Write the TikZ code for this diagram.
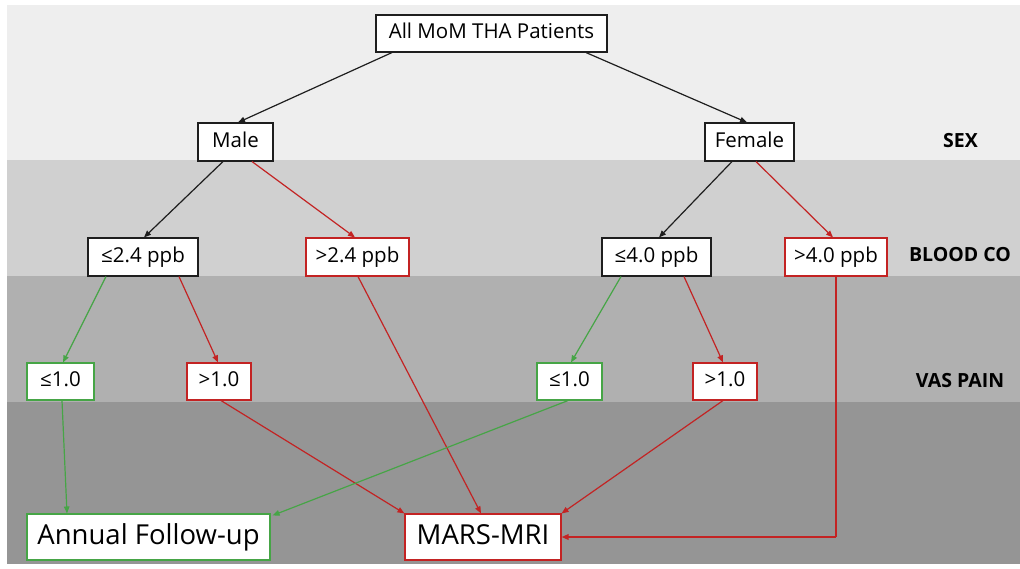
\documentclass[tikz,border=0pt]{standalone}
\usepackage{fontspec}
\setmainfont{Open Sans}
\usetikzlibrary{arrows.meta,positioning}
\definecolor{bandA}{RGB}{238,238,238}
\definecolor{bandB}{RGB}{208,208,208}
\definecolor{bandC}{RGB}{176,176,176}
\definecolor{bandD}{RGB}{149,149,149}
\definecolor{myred}{RGB}{195,35,35}
\definecolor{mygreen}{RGB}{70,165,70}
\definecolor{myblack}{RGB}{30,30,30}
\tikzset{
  box/.style={draw=myblack, line width=1.1pt, fill=white, inner sep=0pt, align=center,
    font=\fontsize{20.5}{24}\selectfont, text height=15pt, text depth=4.5pt},
  redbox/.style={box, draw=myred},
  greenbox/.style={box, draw=mygreen},
  bigbox/.style={font=\fontsize{27.5}{30}\selectfont, text height=20pt, text depth=6pt},
  lvl/.style={font=\fontsize{19.5}{22}\selectfont\bfseries, inner sep=0pt},
  conn/.style={line width=1.2pt, -{Triangle[length=7pt,width=5.5pt]}},
  blk/.style={conn, draw=myblack},
  rd/.style={conn, draw=myred},
  gr/.style={conn, draw=mygreen}
}
\begin{document}
\begin{tikzpicture}[x=1pt,y=-1pt]
\useasboundingbox (0,0) rectangle (1020,568);
\fill[white] (0,0) rectangle (1020,568);
\fill[bandA] (7,5) rectangle (1020,160);
\fill[bandB] (7,160) rectangle (1020,275.5);
\fill[bandC] (7,275.5) rectangle (1020,401.5);
\fill[bandD] (7,401.5) rectangle (1020,564);

\node[box, minimum width=231pt, minimum height=37pt] (all) at (491.5,33.5) {All MoM THA Patients};
\node[box, minimum width=75pt, minimum height=38pt] (male) at (235.5,142) {Male};
\node[box, minimum width=89pt, minimum height=38pt] (female) at (749.5,142) {Female};
\node[box, minimum width=110pt, minimum height=38pt] (le24) at (143,257) {≤2.4 ppb};
\node[redbox, minimum width=103pt, minimum height=38pt] (gt24) at (357.5,257) {>2.4 ppb};
\node[box, minimum width=109pt, minimum height=38pt] (le40) at (656.5,257) {≤4.0 ppb};
\node[redbox, minimum width=102pt, minimum height=38pt] (gt40) at (836,257) {>4.0 ppb};
\node[greenbox, minimum width=67pt, minimum height=37pt] (le10a) at (60.5,381.5) {≤1.0};
\node[redbox, minimum width=64pt, minimum height=37pt] (gt10a) at (219,381.5) {>1.0};
\node[greenbox, minimum width=65pt, minimum height=37pt] (le10b) at (569.5,381.5) {≤1.0};
\node[redbox, minimum width=64pt, minimum height=37pt] (gt10b) at (725,381.5) {>1.0};
\node[greenbox, bigbox, minimum width=243pt, minimum height=46pt] (annual) at (148.5,537) {Annual Follow-up};
\node[redbox, bigbox, minimum width=156pt, minimum height=46pt] (mars) at (483,537) {MARS-MRI};

\node[lvl] (sex) at (960.5,141) {SEX};
\node[lvl] (blood) at (960,255) {BLOOD CO};
\node[lvl] (vas) at (960,381) {VAS PAIN};

\coordinate (bend) at (gt40.south |- mars.east);
\draw[blk] ([xshift=-99.5pt]all.south) -- ([xshift=2.5pt]male.north);
\draw[blk] ([xshift=94.5pt]all.south) -- ([xshift=-2.5pt]female.north);
\draw[blk] ([xshift=-12.5pt]male.south) -- ([xshift=1pt]le24.north);
\draw[rd] ([xshift=16.5pt]male.south) -- ([xshift=-2.5pt]gt24.north);
\draw[blk] ([xshift=-17.5pt]female.south) -- ([xshift=2.5pt]le40.north);
\draw[rd] ([xshift=6.5pt]female.south) -- ([xshift=-3pt]gt40.north);
\draw[gr] ([xshift=-37pt]le24.south) -- ([xshift=2.5pt]le10a.north);
\draw[rd] ([xshift=36pt]le24.south) -- ([xshift=-1pt]gt10a.north);
\draw[rd] ([xshift=0.5pt]gt24.south) -- ([xshift=-2pt]mars.north);
\draw[gr] ([xshift=-35.5pt]le40.south) -- ([xshift=1.5pt]le10b.north);
\draw[rd] ([xshift=27.5pt]le40.south) -- ([xshift=-2pt]gt10b.north);
\draw[myred, line width=2pt] (gt40.south) -- (bend);
\draw[rd, line width=2pt] (bend) -- (mars.east);
\draw[gr] ([xshift=1.5pt]le10a.south) -- ([xshift=-81.5pt]annual.north);
\draw[rd] ([xshift=2pt]gt10a.south) -- (mars.north west);
\draw[gr] ([xshift=-1.5pt]le10b.south) -- ([xshift=2pt,yshift=-2pt]annual.north east);
\draw[rd] ([xshift=-2pt]gt10b.south) -- (mars.north east);
\end{tikzpicture}
\end{document}
